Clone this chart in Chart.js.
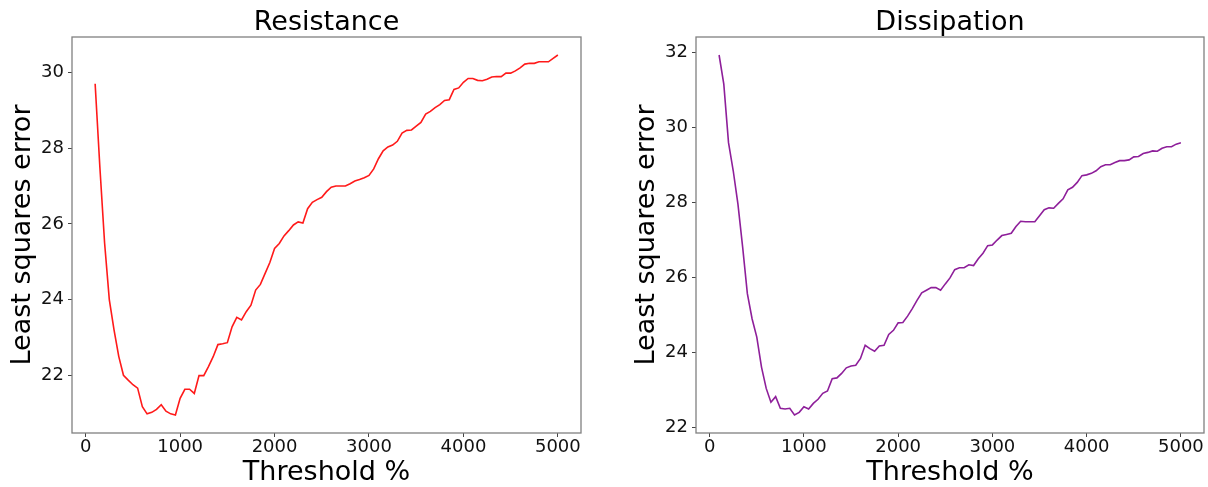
<!DOCTYPE html>
<html>
<head>
<meta charset="utf-8">
<script src="https://cdn.jsdelivr.net/npm/chart.js@4/dist/chart.umd.min.js"></script>
<style>
  html, body { margin:0; padding:0; background:#fff; }
  #wrap { position:relative; width:1208px; height:487px; }
  canvas { position:absolute; top:0; }
</style>
</head>
<body>
<div id="wrap">
  <canvas id="resChart" width="600" height="487" style="left:0"></canvas>
  <canvas id="disChart" width="608" height="487" style="left:600px"></canvas>
</div>
<script>
/* DATA */
let thresholds = [
  100,150,200,250,300,350,400,450,500,550,
  600,650,700,750,800,850,900,950,1000,1050,
  1100,1150,1200,1250,1300,1350,1400,1450,1500,1550,
  1600,1650,1700,1750,1800,1850,1900,1950,2000,2050,
  2100,2150,2200,2250,2300,2350,2400,2450,2500,2550,
  2600,2650,2700,2750,2800,2850,2900,2950,3000,3050,
  3100,3150,3200,3250,3300,3350,3400,3450,3500,3550,
  3600,3650,3700,3750,3800,3850,3900,3950,4000,4050,
  4100,4150,4200,4250,4300,4350,4400,4450,4500,4550,
  4600,4650,4700,4750,4800,4850,4900,4950,5000
];

let resistance = [
  29.70, 27.50, 25.50, 24.00, 23.20, 22.50, 22.00, 21.87, 21.75, 21.66,
  21.17, 20.98, 21.02, 21.10, 21.22, 21.05, 20.98, 20.95, 21.39, 21.63,
  21.63, 21.52, 21.99, 21.99, 22.23, 22.49, 22.81, 22.83, 22.86, 23.28,
  23.53, 23.46, 23.68, 23.85, 24.25, 24.40, 24.69, 24.98, 25.35, 25.48,
  25.68, 25.82, 25.97, 26.05, 26.02, 26.40, 26.57, 26.64, 26.70, 26.85,
  26.97, 27.00, 27.00, 27.00, 27.06, 27.13, 27.17, 27.22, 27.28, 27.45,
  27.72, 27.93, 28.03, 28.08, 28.18, 28.40, 28.47, 28.48, 28.58, 28.68,
  28.90, 28.97, 29.07, 29.15, 29.26, 29.28, 29.55, 29.59, 29.74, 29.84,
  29.84, 29.79, 29.78, 29.82, 29.88, 29.89, 29.89, 29.98, 29.98, 30.04,
  30.12, 30.22, 30.24, 30.24, 30.28, 30.28, 30.28, 30.37, 30.46
];

let dissipation = [
  31.94, 31.16, 29.60, 28.85, 27.96, 26.81, 25.57, 24.90, 24.41, 23.61,
  23.04, 22.67, 22.82, 22.51, 22.49, 22.51, 22.33, 22.40, 22.55, 22.49,
  22.64, 22.75, 22.91, 22.97, 23.30, 23.32, 23.44, 23.59, 23.64, 23.66,
  23.84, 24.19, 24.10, 24.03, 24.17, 24.19, 24.48, 24.59, 24.79, 24.80,
  24.97, 25.17, 25.39, 25.59, 25.66, 25.73, 25.73, 25.66, 25.83, 25.99,
  26.21, 26.26, 26.26, 26.34, 26.32, 26.50, 26.65, 26.85, 26.87, 27.00,
  27.12, 27.15, 27.18, 27.36, 27.50, 27.49, 27.49, 27.49, 27.65, 27.81,
  27.86, 27.85, 27.98, 28.10, 28.34, 28.41, 28.54, 28.72, 28.74, 28.78,
  28.85, 28.96, 29.01, 29.01, 29.07, 29.12, 29.12, 29.14, 29.22, 29.23,
  29.31, 29.34, 29.38, 29.37, 29.45, 29.49, 29.49, 29.56, 29.60
];

let xTicks = [0, 1000, 2000, 3000, 4000, 5000];
let resTicks = [22, 24, 26, 28, 30];
let disTicks = [22, 24, 26, 28, 30, 32];

/* HELPERS */
const FONT = "'DejaVu Sans', sans-serif";

// matplotlib style 5% margins
function limits(vals) {
    let lo = Math.min(...vals), hi = Math.max(...vals);
    let m = (hi - lo) * 0.05;
    return [lo - m, hi + m];
}

// box round the plot area (all four spines)
const frame = {
    id: "frame",
    afterDraw(chart) {
        let a = chart.chartArea, ctx = chart.ctx;
        ctx.save();
        ctx.strokeStyle = "#808080";
        ctx.lineWidth = 1.3;
        ctx.strokeRect(a.left, a.top, a.right - a.left, a.bottom - a.top);
        ctx.restore();
    }
};

function makeChart(id, title, values, yTicks, color, yAxisWidth, padRight, yTitlePad) {
    let [xmin, xmax] = limits(thresholds);
    let [ymin, ymax] = limits(values);
    return new Chart(document.getElementById(id), {
        type: "line",
        data: {
            datasets: [{
                data: thresholds.map((t, i) => ({ x: t, y: values[i] })),
                borderColor: color,
                borderWidth: 1.6,
                pointRadius: 0,
                tension: 0,
                fill: false
            }]
        },
        options: {
            responsive: false,
            animation: false,
            devicePixelRatio: 1,
            layout: { padding: { left: 0, right: padRight, top: 0, bottom: 0 } },
            plugins: {
                legend: { display: false },
                tooltip: { enabled: false },
                title: {
                    display: true,
                    text: title,
                    fullSize: false,
                    color: "#000",
                    font: { family: FONT, size: 27, weight: "normal", lineHeight: 1 },
                    padding: { top: 9.2, bottom: 0.8 }
                }
            },
            scales: {
                x: {
                    type: "linear",
                    min: xmin,
                    max: xmax,
                    afterBuildTicks: s => { s.ticks = xTicks.map(v => ({ value: v })); },
                    afterFit: s => { s.height = 54; },
                    ticks: {
                        autoSkip: false,
                        maxRotation: 0,
                        padding: 0,
                        color: "#111",
                        font: { family: FONT, size: 18 },
                        callback: v => String(v)
                    },
                    grid: { drawOnChartArea: false, drawTicks: true, tickLength: 4, color: "#444" },
                    border: { display: false },
                    title: {
                        display: true,
                        text: "Threshold %",
                        color: "#000",
                        font: { family: FONT, size: 27, lineHeight: 1 },
                        padding: { top: 0, bottom: 0.8 }
                    }
                },
                y: {
                    type: "linear",
                    min: ymin,
                    max: ymax,
                    afterBuildTicks: s => { s.ticks = yTicks.map(v => ({ value: v })); },
                    afterFit: s => { s.width = yAxisWidth; },
                    ticks: {
                        autoSkip: false,
                        padding: 4,
                        color: "#111",
                        font: { family: FONT, size: 18 },
                        callback: v => String(v)
                    },
                    grid: { drawOnChartArea: false, drawTicks: true, tickLength: 4, color: "#444" },
                    border: { display: false },
                    title: {
                        display: true,
                        text: "Least squares error",
                        color: "#000",
                        font: { family: FONT, size: 27, lineHeight: 1 },
                        padding: { top: yTitlePad, bottom: 0 }
                    }
                }
            }
        },
        plugins: [frame]
    });
}

/* CHARTS */
makeChart("resChart", "Resistance", resistance, resTicks, "#ff1a1a", 72, 19, 9.2);
makeChart("disChart", "Dissipation", dissipation, disTicks, "#8e1f9a", 96, 4, 33.2);
</script>
</body>
</html>
